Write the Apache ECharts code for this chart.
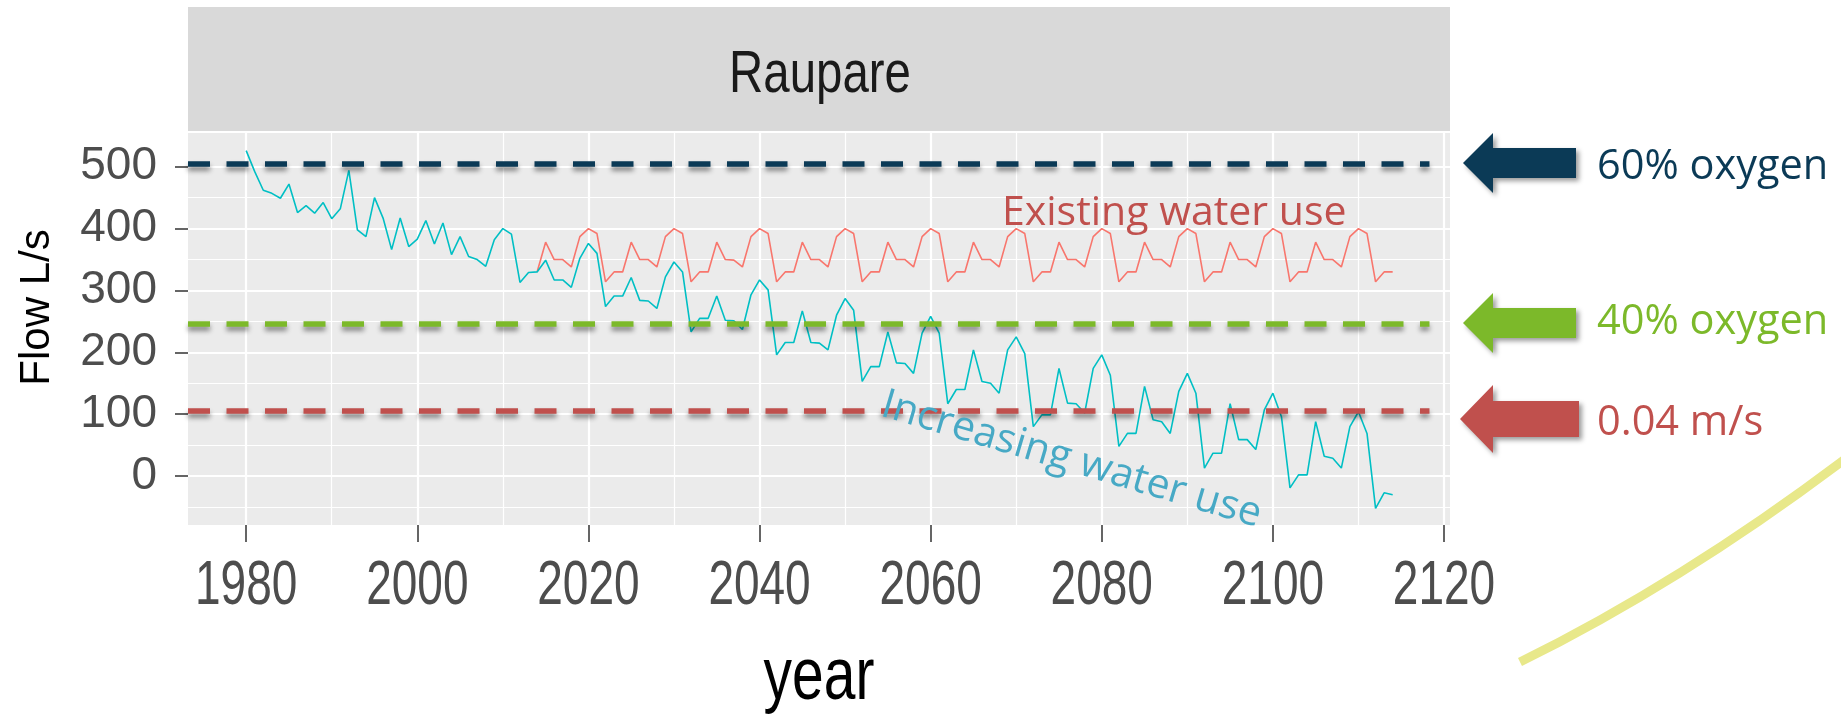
<!DOCTYPE html>
<html>
<head>
<meta charset="utf-8">
<title>Raupare</title>
<script src="https://cdn.jsdelivr.net/npm/echarts@6/dist/echarts.min.js"></script>
<style>
  html, body { margin: 0; padding: 0; background: #fff; }
  #chart { width: 1841px; height: 716px; }
</style>
</head>
<body>
<div id="chart"></div>
<script>
// flow (L/s) per year
var increasingStart = 1980
var increasingFlow = [
  526, 492, 462, 457, 449, 472, 426, 437, 425, 442,
  416, 432, 494, 398, 387, 450, 417, 366, 417, 371,
  383, 413, 375, 409, 358, 387, 355, 350, 339, 382,
  400, 391, 313, 329, 330, 349, 317, 317, 305, 352,
  376, 360, 274, 291, 291, 321, 284, 283, 271, 322,
  346, 330, 233, 255, 255, 291, 252, 251, 237, 293,
  317, 301, 196, 216, 216, 267, 216, 215, 204, 260,
  287, 268, 153, 177, 177, 233, 183, 182, 166, 231,
  258, 231, 117, 140, 140, 204, 153, 150, 134, 204,
  225, 198, 80, 99, 99, 174, 118, 117, 102, 174,
  196, 163, 48, 69, 69, 145, 91, 88, 69, 137,
  166, 134, 13, 37, 37, 117, 59, 59, 43, 107,
  134, 96, -19, 2, 2, 88, 32, 29, 13, 80,
  104, 69, -52, -27, -30
]
var existingStart = 2014
var existingFlow = [
  330, 378, 350, 350, 338, 387,
  400, 392, 314, 330, 330, 378, 350, 350, 338, 387,
  400, 392, 314, 330, 330, 378, 350, 349, 338, 387,
  400, 392, 314, 330, 330, 378, 350, 350, 338, 387,
  400, 392, 314, 330, 330, 378, 350, 350, 338, 387,
  400, 392, 314, 330, 330, 378, 350, 350, 338, 387,
  400, 392, 314, 330, 330, 378, 350, 350, 338, 387,
  400, 392, 314, 330, 330, 378, 350, 350, 338, 387,
  400, 392, 314, 330, 330, 378, 350, 350, 338, 387,
  400, 392, 314, 330, 330, 378, 350, 350, 338, 387,
  400, 392, 314, 330, 330
]
var xTicks = [1980, 2000, 2020, 2040, 2060, 2080, 2100, 2120]
var xMinorTicks = [1990, 2010, 2030, 2050, 2070, 2090, 2110]
var yTicks = [0, 100, 200, 300, 400, 500]
var yMinorTicks = [-50, 50, 150, 250, 350, 450]
var thresholdNames = ['60% oxygen', '40% oxygen', '0.04 m/s']
var thresholdValues = [504.5, 246, 105]

var navy = '#0b3a56', green = '#7cb92a', brick = '#c0504d'
var thresholdColors = [navy, green, brick]
var arial = '"Liberation Sans", Arial, sans-serif'
var calibriLike = '"Open Sans", "Noto Sans", sans-serif'

function toPairs(start, arr) {
  return arr.map(function (v, i) { return [start + i, v] })
}

var chart = echarts.init(document.getElementById('chart'))

var markLines = thresholdValues.map(function (v, i) {
  return [
    { coord: [1973.2, v], lineStyle: { color: thresholdColors[i] } },
    { coord: [2118.3, v] }
  ]
})

var option = {
  animation: false,
  backgroundColor: '#fff',
  grid: {
    left: 188, top: 133, width: 1262, height: 392,
    show: true, backgroundColor: '#ebebeb', borderWidth: 0
  },
  xAxis: [
    {
      type: 'value', min: 1973.2, max: 2120.7,
      axisLine: { show: false, onZero: false },
      axisTick: { show: true, customValues: xTicks, length: 17, lineStyle: { color: '#333', width: 1.5 } },
      // the year labels are drawn squeezed below (ggplot export was stretched)
      axisLabel: { show: false, customValues: xTicks },
      splitLine: { show: true, lineStyle: { color: '#fff', width: 2.2 } }
    },
    {
      type: 'value', min: 1973.2, max: 2120.7, position: 'top',
      axisLine: { show: false, onZero: false },
      axisTick: { show: false, customValues: xMinorTicks },
      axisLabel: { show: false, customValues: xMinorTicks },
      splitLine: { show: true, lineStyle: { color: '#fff', width: 1.2 } }
    }
  ],
  yAxis: [
    {
      type: 'value', min: -79, max: 554.5,
      axisLine: { show: false, onZero: false },
      axisTick: { show: true, customValues: yTicks, length: 13, lineStyle: { color: '#333', width: 1.5 } },
      axisLabel: {
        customValues: yTicks, fontSize: 46, margin: 31,
        fontFamily: arial, color: '#4d4d4d'
      },
      splitLine: { show: true, lineStyle: { color: '#fff', width: 2.2 } }
    },
    {
      type: 'value', min: -79, max: 554.5, position: 'right',
      axisLine: { show: false, onZero: false },
      axisTick: { show: false, customValues: yMinorTicks },
      axisLabel: { show: false, customValues: yMinorTicks },
      splitLine: { show: true, lineStyle: { color: '#fff', width: 1.2 } }
    }
  ],
  series: [
    {
      name: 'Existing water use', type: 'line', xAxisIndex: 0, yAxisIndex: 0,
      showSymbol: false, silent: true, z: 3,
      lineStyle: { color: '#f8766d', width: 1.6 },
      data: toPairs(existingStart, existingFlow)
    },
    {
      name: 'Increasing water use', type: 'line', xAxisIndex: 0, yAxisIndex: 0,
      showSymbol: false, silent: true, z: 4,
      lineStyle: { color: '#00bfc4', width: 1.6 },
      data: toPairs(increasingStart, increasingFlow),
      markLine: {
        silent: true, symbol: 'none', label: { show: false }, z: 6,
        lineStyle: {
          type: [22, 16.5], width: 5.5,
          shadowColor: 'rgba(0,0,0,0.45)', shadowBlur: 5, shadowOffsetY: 4
        },
        data: markLines
      }
    }
  ]
}

chart.setOption(option)

var graphics = [
  // facet strip
  { type: 'rect', z: 1, shape: { x: 188, y: 7, width: 1262, height: 124 }, style: { fill: '#d9d9d9' } },
  {
    type: 'text', z: 2, x: 820, y: 75, scaleX: 0.79,
    style: { text: 'Raupare', font: '60px ' + arial, fill: '#1a1a1a', align: 'center', verticalAlign: 'middle' }
  },
  {
    type: 'text', z: 2, x: 37, y: 307.5, rotation: Math.PI / 2,
    style: { text: 'Flow L/s', font: '42px ' + arial, fill: '#000', align: 'center', verticalAlign: 'middle' }
  },
  {
    type: 'text', z: 2, x: 819, y: 679, scaleX: 0.77,
    style: { text: 'year', font: '74px ' + arial, fill: '#000', align: 'center', verticalAlign: 'middle' }
  },
  {
    type: 'text', z: 60, x: 1002, y: 213,
    style: { text: 'Existing water use', font: '41px ' + calibriLike, fill: brick, align: 'left', verticalAlign: 'middle' }
  },
  {
    type: 'text', z: 60, x: 882.5, y: 404, rotation: -16.5 * Math.PI / 180,
    style: { text: 'Increasing water use', font: '41px ' + calibriLike, fill: '#47a9c5', align: 'left', verticalAlign: 'middle' }
  },
  {
    type: 'bezierCurve', z: 1,
    shape: { x1: 1520, y1: 662, x2: 1845, y2: 459, cpx1: 1682, cpy1: 582 },
    style: { stroke: '#e8e88a', lineWidth: 9, fill: null }
  }
]

// year tick labels, placed through the x axis scale
xTicks.forEach(function (yr) {
  var px = chart.convertToPixel({ xAxisIndex: 0 }, yr)
  graphics.push({
    type: 'text', z: 2, x: px, y: 586.5, scaleX: 0.73,
    style: { text: String(yr), font: '63px ' + arial, fill: '#4d4d4d', align: 'center', verticalAlign: 'middle' }
  })
})

// arrows on the right, one per threshold
var arrowTops = [133, 293, 385]
var textMid = [167, 322, 423]
for (var i = 0; i < 3; i++) {
  var t = arrowTops[i]
  var big = i === 2
  var h = big ? 68 : 60
  var tipX = big ? 1460 : 1463
  var endX = big ? 1579 : 1576
  var shaftPad = big ? 16 : 15
  graphics.push({
    type: 'polygon',
    z: 50,
    shape: {
      points: [
        [tipX, t + h / 2], [1493, t], [1493, t + shaftPad], [endX, t + shaftPad],
        [endX, t + h - shaftPad], [1493, t + h - shaftPad], [1493, t + h]
      ]
    },
    style: {
      fill: thresholdColors[i],
      shadowColor: 'rgba(0,0,0,0.4)', shadowBlur: 5, shadowOffsetX: 3, shadowOffsetY: 3
    }
  })
  graphics.push({
    type: 'text', z: 50, x: 1597, y: textMid[i],
    style: {
      text: thresholdNames[i], fill: thresholdColors[i],
      font: '41.5px ' + calibriLike, align: 'left', verticalAlign: 'middle'
    }
  })
}

chart.setOption({ graphic: graphics })
</script>
</body>
</html>
